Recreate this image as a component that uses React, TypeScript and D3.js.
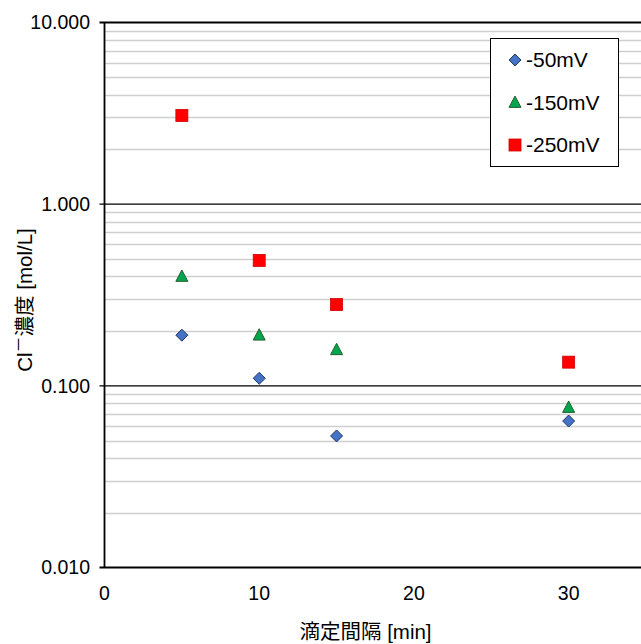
import React from 'react';
import * as d3 from 'd3';

const intervals = [5, 10, 15, 30];
const seriesNames = ['-50mV', '-150mV', '-250mV'];
const mv50 = [0.19, 0.11, 0.053, 0.064];
const mv150 = [0.4, 0.19, 0.158, 0.076];
const mv250 = [3.08, 0.49, 0.28, 0.135];
const xTicks = [0, 10, 20, 30];
const yTicks = [0.01, 0.1, 1, 10];

const W = 641;
const H = 644;
const left = 104.5;
const top = 22.5;
const right = 646;
const bottom = 567.5;

const fontLatin = 'Arial, "Liberation Sans", sans-serif';
const fontCjk = 'Arial, "Liberation Sans", "Noto Sans CJK JP", sans-serif';

function Marker({ kind, x, y }: { kind: number; x: number; y: number }) {
  if (kind === 0) {
    const r = 6;
    const d = `M0,${-r}L${r},0L0,${r}L${-r},0Z`;
    return <path d={d} transform={`translate(${x},${y})`} fill="#4472c4" stroke="#1f3864" strokeWidth={1} />;
  }
  if (kind === 1) {
    const r = 6;
    const d = `M0,${-r}L${r},${r * 0.9}L${-r},${r * 0.9}Z`;
    return <path d={d} transform={`translate(${x},${y - 0.5})`} fill="#00a550" stroke="#2a5e2a" strokeWidth={1} />;
  }
  return <rect x={x - 6} y={y - 6} width={12} height={12} fill="#ff0000" stroke="#d00000" strokeWidth={0.8} />;
}

export default function App() {
  const x = d3.scaleLinear().domain([0, 35]).range([left, right]);
  const y = d3.scaleLog().domain([0.01, 10]).range([bottom, top]);
  const series = [mv50, mv150, mv250];

  const minor: number[] = [];
  [0.01, 0.1, 1].forEach((dec) => {
    for (let k = 2; k <= 9; k++) minor.push(dec * k);
  });

  return (
    <svg width={W} height={H} style={{ position: 'absolute', left: 0, top: 0 }}>
      <rect width={W} height={H} fill="#fff" />
      {minor.map((v) => (
        <line key={v} x1={left} x2={right} y1={Math.round(y(v)) + 0.5} y2={Math.round(y(v)) + 0.5} stroke="#cfcfcf" strokeWidth={1.3} />
      ))}
      {yTicks.map((v) => (
        <g key={v}>
          <line x1={left - 5} x2={right} y1={y(v)} y2={y(v)} stroke="#000" strokeWidth={v === 0.01 || v === 10 ? 1.8 : 1.1} />
          <text x={90} y={y(v)} dy="0.35em" textAnchor="end" fontFamily={fontLatin} fontSize={19.5} fill="#000">
            {d3.format('.3f')(v)}
          </text>
        </g>
      ))}
      <line x1={left} x2={left} y1={top} y2={bottom} stroke="#000" strokeWidth={1.8} />
      {xTicks.map((v) => (
        <text key={v} x={x(v)} y={600} textAnchor="middle" fontFamily={fontLatin} fontSize={19.5} fill="#000">
          {v}
        </text>
      ))}
      {series.map((vals, si) =>
        vals.map((v, i) => <Marker key={`${si}-${i}`} kind={si} x={x(intervals[i])} y={y(v)} />)
      )}
      <g>
        <rect x={490.5} y={38.5} width={128} height={128} fill="#fff" stroke="#000" strokeWidth={1} />
        {seriesNames.map((n, i) => (
          <g key={n}>
            <Marker kind={i} x={515} y={60 + i * 42.5} />
            <text x={526} y={60 + i * 42.5} dy="0.35em" fontFamily={fontLatin} fontSize={21} fill="#000">
              {n}
            </text>
          </g>
        ))}
      </g>
      <text x={365.5} y={639} textAnchor="middle" fontFamily={fontCjk} fontSize={20.5} fill="#000">
        滴定間隔 [min]
      </text>
      <text transform="translate(32,300) rotate(-90)" textAnchor="middle" fontFamily={fontCjk} fontSize={20.5} fill="#000">
        Cl<tspan dy={-8} fontSize={16}>－</tspan>
        <tspan dy={8}>濃度 [mol/L]</tspan>
      </text>
    </svg>
  );
}
